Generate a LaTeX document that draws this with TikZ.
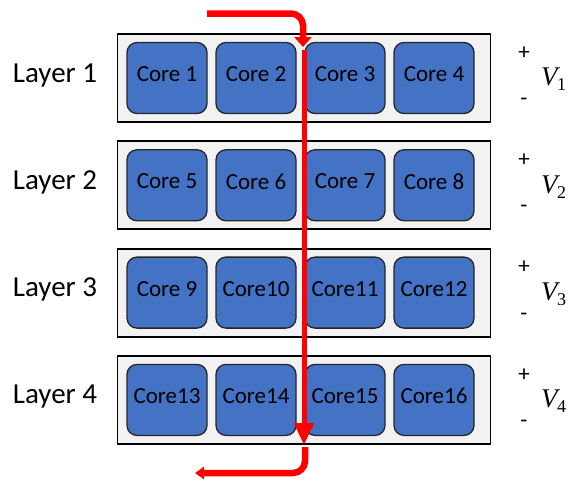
\documentclass[tikz,border=0pt]{standalone}
\usepackage{fontspec}
\setmainfont{Carlito}
\newfontfamily\vserif{Liberation Serif}
\usetikzlibrary{arrows.meta}
\definecolor{coreblue}{HTML}{4472C4}
\definecolor{layergray}{HTML}{F2F2F2}
\definecolor{arrowred}{HTML}{FF0000}
\newcommand{\volt}[1]{{\vserif\itshape V\kern-0.5pt\raisebox{-5pt}{\upshape\fontsize{18}{18}\selectfont #1}}}
\begin{document}
\begin{tikzpicture}[x=1pt,y=-1pt,
  layerbox/.style={draw=black, line width=1.8pt, fill=layergray, minimum width=373pt, minimum height=88pt, inner sep=0pt},
  corebox/.style={draw=black!85, line width=1.3pt, fill=coreblue, rounded corners=10pt,
    minimum width=80pt, minimum height=71pt, inner sep=0pt, text depth=8pt,
    font=\fontsize{23}{23}\selectfont},
  layerlabel/.style={anchor=base, font=\fontsize{29}{29}\selectfont},
  signlabel/.style={font=\fontsize{23}{23}\selectfont},
  vlabel/.style={inner sep=0pt, font=\fontsize{27}{27}\selectfont},
  flow/.style={draw=arrowred, line width=6.5pt}]
\useasboundingbox (0,0) rectangle (569,483);
\foreach \i in {1,...,4}{
  \pgfmathsetmacro{\cy}{78+107.3*(\i-1)}
  \node[layerbox] (L\i) at (304,\cy) {};
  \node[layerlabel] (lab\i) at (55,\cy+4) {Layer \i};
  \node[signlabel] (plus\i) at (524,\cy-25) {+};
  \node[signlabel] (minus\i) at (524,\cy+24) {-};
  \node[vlabel] (v\i) at (553.5,\cy+1.5) {\volt{\i}};
}
\foreach \i/\lbl in {1/Core 1,2/Core 2,3/Core 3,4/Core 4}{
  \pgfmathsetmacro{\cx}{167+89*(\i-1)}
  \node[corebox] (c\i) at (\cx,78) {\lbl};
}
\foreach \i/\lbl in {1/Core 5,2/Core 6,3/Core 7,4/Core 8}{
  \pgfmathsetmacro{\cx}{167+89*(\i-1)}
  \node[corebox] (c\i b) at (\cx,185.3) {\lbl};
}
\foreach \i/\lbl in {1/Core 9,2/Core10,3/Core11,4/Core12}{
  \pgfmathsetmacro{\cx}{167+89*(\i-1)}
  \node[corebox] (c\i c) at (\cx,292.6) {\lbl};
}
\foreach \i/\lbl in {1/Core13,2/Core14,3/Core15,4/Core16}{
  \pgfmathsetmacro{\cx}{167+89*(\i-1)}
  \node[corebox] (c\i d) at (\cx,399.9) {\lbl};
}
\coordinate (s1) at (207,13.5);
\coordinate (t1) at (303,47);
\draw[flow, rounded corners=12pt, -{Triangle[length=10pt,width=17pt]}] (s1) -| (t1);
\coordinate (s2) at (304,50);
\coordinate (t2) at (304,445);
\draw[flow, line width=5pt, -{Triangle[length=22pt,width=19pt]}] (s2) -- (t2);
\coordinate (s3) at (305,447);
\coordinate (t3) at (195,473);
\draw[flow, rounded corners=12pt, -{Triangle[length=9pt,width=12pt]}] (s3) |- (t3);
\end{tikzpicture}
\end{document}
